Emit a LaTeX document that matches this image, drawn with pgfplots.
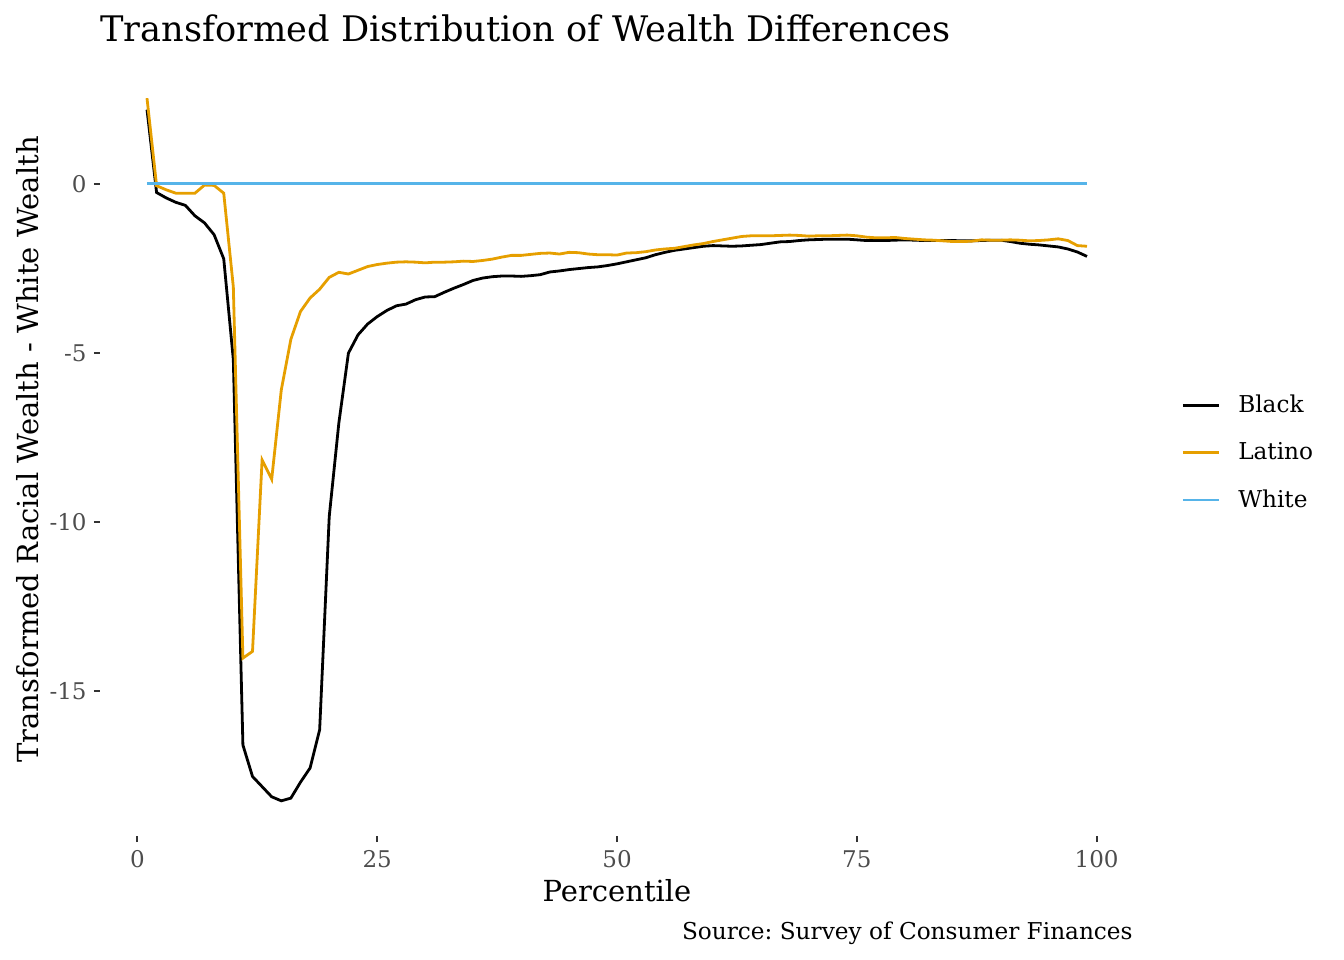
\documentclass[border=0pt]{standalone}
\usepackage{fontspec}
\setmainfont{DejaVu Serif}
\usepackage{pgfplots}
\pgfplotsset{compat=1.18}
\definecolor{cLat}{HTML}{E69F00}
\definecolor{cWhi}{HTML}{56B4E9}
\definecolor{tickgray}{HTML}{4D4D4D}
\definecolor{tickline}{HTML}{333333}

\pgfplotstableread{
p v
1 2.19
2 -0.26
3 -0.42
4 -0.55
5 -0.64
6 -0.95
7 -1.16
8 -1.51
9 -2.22
10 -5.2
11 -16.6
12 -17.53
13 -17.83
14 -18.13
15 -18.25
16 -18.17
17 -17.7
18 -17.28
19 -16.15
20 -9.84
21 -7.08
22 -5.01
23 -4.47
24 -4.15
25 -3.93
26 -3.75
27 -3.61
28 -3.56
29 -3.43
30 -3.35
31 -3.34
32 -3.21
33 -3.09
34 -2.98
35 -2.86
36 -2.79
37 -2.75
38 -2.73
39 -2.73
40 -2.74
41 -2.72
42 -2.69
43 -2.61
44 -2.58
45 -2.54
46 -2.51
47 -2.48
48 -2.46
49 -2.42
50 -2.37
51 -2.31
52 -2.25
53 -2.19
54 -2.10
55 -2.03
56 -1.97
57 -1.93
58 -1.89
59 -1.85
60 -1.83
61 -1.84
62 -1.85
63 -1.84
64 -1.82
65 -1.80
66 -1.76
67 -1.72
68 -1.71
69 -1.68
70 -1.66
71 -1.65
72 -1.64
73 -1.64
74 -1.64
75 -1.66
76 -1.68
77 -1.68
78 -1.68
79 -1.67
80 -1.66
81 -1.67
82 -1.68
83 -1.68
84 -1.68
85 -1.68
86 -1.69
87 -1.69
88 -1.68
89 -1.67
90 -1.67
91 -1.71
92 -1.76
93 -1.79
94 -1.81
95 -1.84
96 -1.87
97 -1.93
98 -2.02
99 -2.15
}\blacktab

\pgfplotstableread{
p v
1 2.53
2 -0.06
3 -0.18
4 -0.28
5 -0.28
6 -0.28
7 -0.04
8 -0.05
9 -0.28
10 -3.05
11 -14.03
12 -13.83
13 -8.17
14 -8.74
15 -6.1
16 -4.6
17 -3.78
18 -3.38
19 -3.12
20 -2.77
21 -2.62
22 -2.67
23 -2.56
24 -2.45
25 -2.39
26 -2.35
27 -2.32
28 -2.31
29 -2.32
30 -2.34
31 -2.32
32 -2.32
33 -2.31
34 -2.29
35 -2.30
36 -2.27
37 -2.23
38 -2.17
39 -2.12
40 -2.12
41 -2.09
42 -2.06
43 -2.05
44 -2.08
45 -2.03
46 -2.04
47 -2.08
48 -2.10
49 -2.10
50 -2.11
51 -2.05
52 -2.04
53 -2.01
54 -1.96
55 -1.93
56 -1.91
57 -1.86
58 -1.81
59 -1.77
60 -1.71
61 -1.66
62 -1.61
63 -1.56
64 -1.54
65 -1.54
66 -1.54
67 -1.53
68 -1.52
69 -1.53
70 -1.55
71 -1.54
72 -1.54
73 -1.53
74 -1.52
75 -1.54
76 -1.58
77 -1.60
78 -1.60
79 -1.59
80 -1.62
81 -1.64
82 -1.66
83 -1.67
84 -1.69
85 -1.71
86 -1.71
87 -1.70
88 -1.66
89 -1.67
90 -1.67
91 -1.66
92 -1.67
93 -1.69
94 -1.68
95 -1.66
96 -1.63
97 -1.68
98 -1.83
99 -1.85
}\latinotab

\begin{document}
\frenchspacing
\begin{tikzpicture}
\useasboundingbox (-50bp,-62bp) rectangle (622bp,418bp);
\begin{axis}[
  at={(0,0)}, anchor=south west,
  scale only axis, width=517bp, height=386.5bp,
  xmin=-3.9, xmax=103.9, ymin=-19.29, ymax=3.57,
  axis lines*=left, axis line style={draw=none},
  tick align=outside, major tick length=3bp,
  tick style={draw=tickline, line width=1bp},
  minor tick num=0,
  xtick={0,25,50,75,100}, xticklabels={0,25,50,75,100},
  ytick={-15,-10,-5,0}, yticklabels={-15,-10,-5,0},
  ticklabel style={font=\fontsize{11.5bp}{13bp}\selectfont, text=tickgray, inner sep=0pt},
  xticklabel shift=4bp, yticklabel shift=3.5bp,
  legend style={at={(1.0455,0.496)}, anchor=west, draw=none, fill=none,
    inner sep=0pt, row sep=13.5bp, font=\fontsize{11.6bp}{13bp}\selectfont,
    /tikz/column sep=9bp, nodes={inner sep=0pt}},
  legend cell align=left,
  legend image code/.code={\draw[#1] (0bp,0bp) -- (18bp,0bp);},
]
\addplot[black, line width=1.4bp] table[x=p,y=v] {\blacktab};
\addlegendentry{Black}
\addplot[cLat, line width=1.4bp] table[x=p,y=v] {\latinotab};
\addlegendentry{Latino}
\addplot[cWhi, line width=1.4bp] coordinates {(1,0) (99,0)};
\addlegendentry{White}
\end{axis}
\node[anchor=base west, inner sep=0pt, font=\fontsize{17.6bp}{20bp}\selectfont] at (0bp,397.2bp) {Transformed Distribution of Wealth Differences};
\node[anchor=center, inner sep=0pt, font=\fontsize{14.5bp}{17bp}\selectfont] at (258.5bp,-27.5bp) {Percentile};
\node[anchor=base east, inner sep=0pt, font=\fontsize{11.6bp}{13bp}\selectfont] at (516.5bp,-51.5bp) {Source: Survey of Consumer Finances};
\node[anchor=center, rotate=90, inner sep=0pt, font=\fontsize{14.5bp}{17bp}\selectfont] at (-36bp,193.25bp) {Transformed Racial Wealth - White Wealth};
\end{tikzpicture}
\end{document}
